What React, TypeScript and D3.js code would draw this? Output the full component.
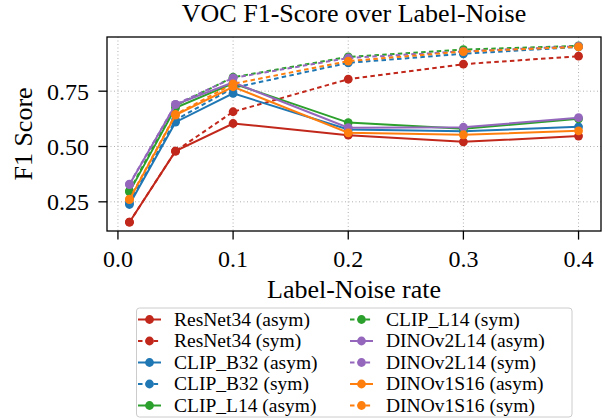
import React from 'react'
import * as d3 from 'd3'

// noise rates on the x axis
const noiseRates = [0.01, 0.05, 0.1, 0.2, 0.3, 0.4]

const resnetAsym = [0.158, 0.479, 0.604, 0.551, 0.521, 0.547]
const resnetSym = [0.158, 0.479, 0.657, 0.804, 0.872, 0.908]
const clipB32Asym = [0.238, 0.61, 0.74, 0.577, 0.569, 0.589]
const clipB32Sym = [0.245, 0.62, 0.765, 0.878, 0.919, 0.95]
const clipL14Asym = [0.295, 0.675, 0.785, 0.608, 0.58, 0.625]
const clipL14Sym = [0.3, 0.685, 0.813, 0.905, 0.938, 0.955]
const dinov2Asym = [0.328, 0.69, 0.79, 0.585, 0.587, 0.63]
const dinov2Sym = [0.33, 0.69, 0.81, 0.9, 0.93, 0.953]
const dinov1Asym = [0.26, 0.642, 0.77, 0.562, 0.553, 0.571]
const dinov1Sym = [0.262, 0.645, 0.783, 0.886, 0.929, 0.95]

const seriesNames = [
  'ResNet34 (asym)', 'ResNet34 (sym)',
  'CLIP_B32 (asym)', 'CLIP_B32 (sym)',
  'CLIP_L14 (asym)', 'CLIP_L14 (sym)',
  'DINOv2L14 (asym)', 'DINOv2L14 (sym)',
  'DINOv1S16 (asym)', 'DINOv1S16 (sym)',
]
const seriesValues = [
  resnetAsym, resnetSym, clipB32Asym, clipB32Sym, clipL14Asym,
  clipL14Sym, dinov2Asym, dinov2Sym, dinov1Asym, dinov1Sym,
]

const xTicks = [0.0, 0.1, 0.2, 0.3, 0.4]
const yTicks = [0.25, 0.5, 0.75]

const colors = ['#c1271a', '#1f77b4', '#2ca02c', '#9467bd', '#ff7f0e']
const FONT = '"Liberation Serif", "DejaVu Serif", serif'

const W = 605, H = 419
const left = 107, right = 601, top = 37, bottom = 231

export default function App() {
  // matplotlib style 5% padding around the data
  const xExt = d3.extent(noiseRates) as [number, number]
  const xPad = (xExt[1] - xExt[0]) * 0.05
  const allY = seriesValues.flat()
  const yExt = d3.extent(allY) as [number, number]
  const yPad = (yExt[1] - yExt[0]) * 0.05

  const x = d3.scaleLinear().domain([xExt[0] - xPad, xExt[1] + xPad]).range([left, right])
  const y = d3.scaleLinear().domain([yExt[0] - yPad, yExt[1] + yPad]).range([bottom, top])

  const line = d3.line<number>()
    .x((d, i) => x(noiseRates[i]))
    .y(d => y(d))

  const series = seriesNames.map((name, i) => ({
    name,
    values: seriesValues[i],
    color: colors[Math.floor(i / 2)],
    dashed: i % 2 === 1,
  }))

  const tickLen = 8.6

  // legend layout: 2 columns, 5 rows, column major
  const legX = [138, 350]
  const legRow0 = 319.5, legRowH = 21.5

  return (
    <svg width={W} height={H} style={{ position: 'absolute', left: 0, top: 0, background: '#fff' }}>
      <rect x={0} y={0} width={W} height={H} fill='#fff' />

      {/* grid */}
      <g stroke='#b0b0b0' strokeWidth={1} strokeDasharray='1,2.5'>
        {xTicks.map(t => (
          <line key={'gx' + t} x1={x(t)} x2={x(t)} y1={top} y2={bottom} />
        ))}
        {yTicks.map(t => (
          <line key={'gy' + t} x1={left} x2={right} y1={y(t)} y2={y(t)} />
        ))}
      </g>

      {/* series */}
      <g>
        {series.map(s => (
          <g key={s.name}>
            <path d={line(s.values) || ''} fill='none' stroke={s.color} strokeWidth={2}
              strokeDasharray={s.dashed ? '4.5,3.3' : undefined} />
            {s.values.map((v, i) => (
              <circle key={i} cx={x(noiseRates[i])} cy={y(v)} r={4.4} fill={s.color} />
            ))}
          </g>
        ))}
      </g>

      {/* frame */}
      <rect x={left} y={top} width={right - left} height={bottom - top} fill='none' stroke='#000' strokeWidth={1.3} />

      {/* x axis */}
      <g fontFamily={FONT} fontSize={24} textAnchor='middle'>
        {xTicks.map(t => (
          <g key={'xt' + t}>
            <line x1={x(t)} x2={x(t)} y1={bottom} y2={bottom + tickLen} stroke='#000' strokeWidth={1.3} />
            <text x={x(t)} y={267}>{t.toFixed(1)}</text>
          </g>
        ))}
      </g>
      <text x={(left + right) / 2} y={298} fontFamily={FONT} fontSize={26} textAnchor='middle'>Label-Noise rate</text>

      {/* y axis */}
      <g fontFamily={FONT} fontSize={24} textAnchor='end'>
        {yTicks.map(t => (
          <g key={'yt' + t}>
            <line x1={left - tickLen} x2={left} y1={y(t)} y2={y(t)} stroke='#000' strokeWidth={1.3} />
            <text x={89} y={y(t)} dy='0.35em'>{t.toFixed(2)}</text>
          </g>
        ))}
      </g>
      <text transform={`translate(32, ${(top + bottom) / 2}) rotate(-90)`} fontFamily={FONT} fontSize={26} textAnchor='middle'>F1 Score</text>

      {/* title */}
      <text x={(left + right) / 2} y={22} fontFamily={FONT} fontSize={26} textAnchor='middle'>VOC F1-Score over Label-Noise</text>

      {/* legend */}
      <rect x={136.5} y={308} width={435.5} height={109} rx={3} fill='#fff' fillOpacity={0.8} stroke='#cccccc' strokeWidth={1} />
      <g fontFamily={FONT} fontSize={19.5}>
        {series.map((s, i) => {
          const col = Math.floor(i / 5)
          const row = i % 5
          const lx = legX[col]
          const ly = legRow0 + row * legRowH
          return (
            <g key={'leg' + s.name}>
              <line x1={lx} x2={lx + 23} y1={ly} y2={ly} stroke={s.color} strokeWidth={2}
                strokeDasharray={s.dashed ? '4.5,3.3' : undefined} />
              <circle cx={lx + 11.5} cy={ly} r={4.4} fill={s.color} />
              <text x={lx + 36} y={ly} dy='0.33em'>{s.name}</text>
            </g>
          )
        })}
      </g>
    </svg>
  )
}
